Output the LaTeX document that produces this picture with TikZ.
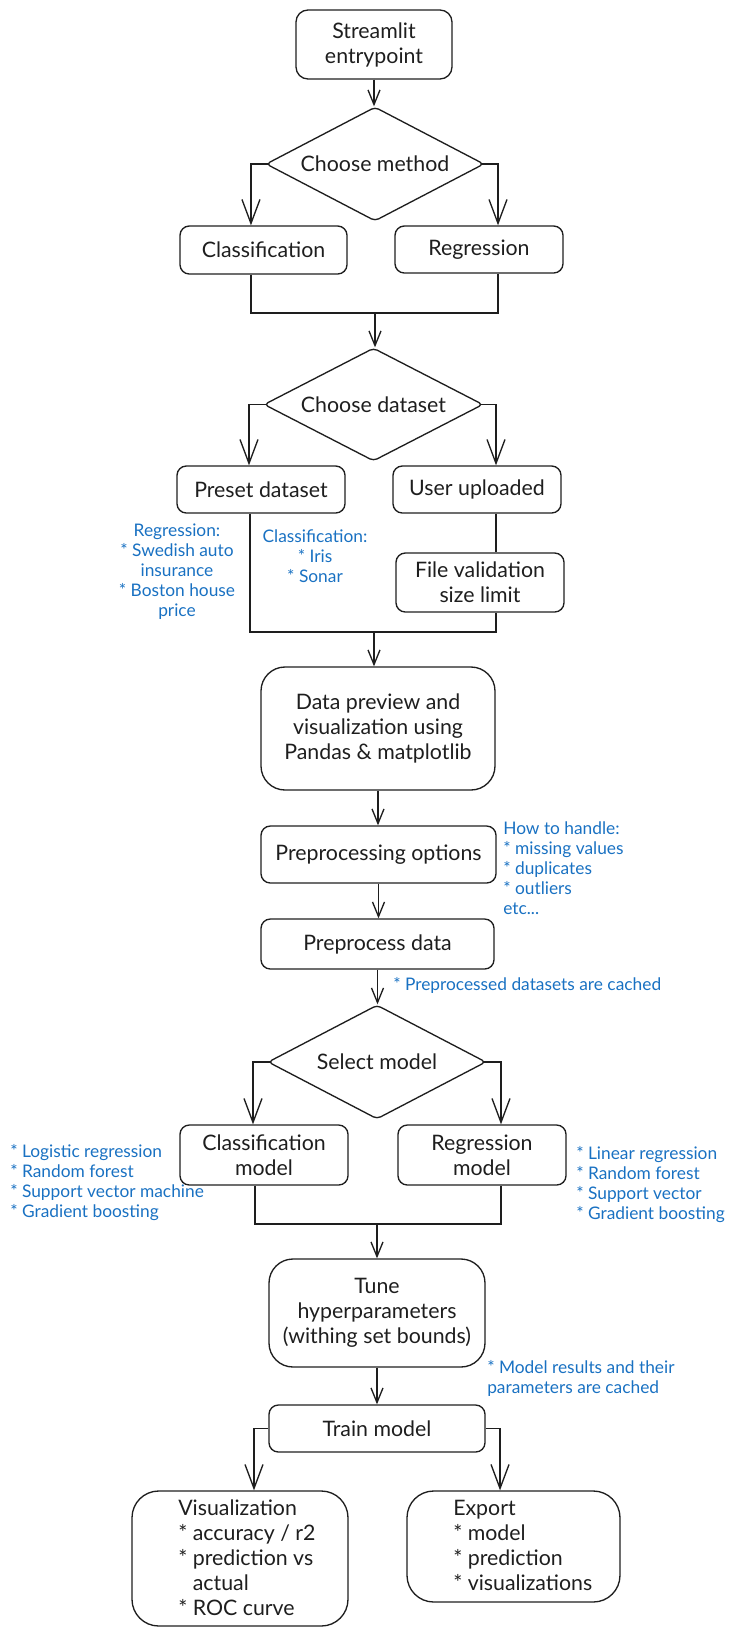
\documentclass[tikz,border=0pt]{standalone}
\usepackage{fontspec}
\setmainfont{Lato}
\usepackage{xcolor}
\usetikzlibrary{arrows.meta,shapes.geometric}

\definecolor{ink}{HTML}{1E1E1E}
\definecolor{noteblue}{HTML}{1971C2}

\tikzset{
  block/.style     = {draw=ink, line width=1pt, rounded corners=7pt, align=center,
                      inner sep=0pt, text=ink, font=\fontsize{16}{18.75}\selectfont},
  bigblock/.style  = {block, rounded corners=18pt},
  decision/.style  = {diamond, draw=ink, line width=1pt, rounded corners=3pt, aspect=1.9,
                      inner sep=0pt, text=ink, font=\fontsize{16}{18.75}\selectfont},
  boxtext/.style   = {anchor=west, align=left, inner sep=0pt, text=ink,
                      font=\fontsize{16}{18.75}\selectfont},
  note/.style      = {text=noteblue, align=left, inner sep=0pt, font=\fontsize{13}{15}\selectfont},
  link/.style      = {draw=ink, line width=1pt},
  shortarrow/.style= {link, -{Straight Barb[length=11pt,width=9pt]}},
  longarrow/.style = {link, -{Straight Barb[length=18pt,width=13.5pt]}}
}

\begin{document}
\begin{tikzpicture}[x=0.75pt, y=-0.75pt]

\useasboundingbox (0,0) rectangle (740,1636);

% level 1
\node[block, rounded corners=9pt, minimum width=117pt, minimum height=51.75pt] (entry) at (374,44.5) {Streamlit\\entrypoint};
\node[decision, minimum width=163.5pt, minimum height=85.5pt] (method) at (375,164) {Choose method};
\node[block, minimum width=125.25pt, minimum height=36pt] (cls) at (263.5,250) {Classification};
\node[block, minimum width=126pt, minimum height=35.25pt] (reg) at (479,249.5) {Regression};

% level 2
\node[decision, minimum width=164.25pt, minimum height=84.75pt] (dataset) at (373.5,404.5) {Choose dataset};
\node[block, minimum width=126pt, minimum height=35.25pt] (preset) at (261,489.5) {Preset dataset};
\node[block, minimum width=126pt, minimum height=35.25pt] (user) at (477,489.5) {User uploaded};
\node[block, minimum width=126pt, minimum height=44.25pt] (valid) at (480,582.5) {File validation\\size limit};

\node[note, align=center] (regnote) at (177,572) {Regression:\\* Swedish auto\\insurance\\* Boston house\\price};
\node[note, align=center] (clsnote) at (315,556) {Classification:\\* Iris\\* Sonar};

% level 3
\node[bigblock, minimum width=175.5pt, minimum height=92.25pt] (preview) at (378,728.5) {Data preview and\\visualization using\\Pandas \& matplotlib};
\node[block, minimum width=176.25pt, minimum height=42.75pt] (prepopt) at (378.5,854.5) {Preprocessing options};
\node[block, minimum width=174.75pt, minimum height=37.5pt] (prepdata) at (377.5,944) {Preprocess data};

\node[note, anchor=west] (handlenote) at (503,868) {How to handle:\\* missing values\\* duplicates\\* outliers\\etc...};
\node[note, anchor=west] (cachenote) at (393,985) {* Preprocessed datasets are cached};

% level 4
\node[decision, minimum width=163.5pt, minimum height=85.5pt] (select) at (377,1062) {Select model};
\node[block, minimum width=126pt, minimum height=45pt] (clsmodel) at (264,1155) {Classification\\model};
\node[block, minimum width=126pt, minimum height=45pt] (regmodel) at (482,1155) {Regression\\model};

\node[note, anchor=west] (logitnote) at (10,1183) {* Logistic regression\\* Random forest\\* Support vector machine\\* Gradient boosting};
\node[note, anchor=west] (linnote) at (576,1185) {* Linear regression\\* Random forest\\* Support vector\\* Gradient boosting};

% level 5
\node[bigblock, minimum width=162pt, minimum height=81pt] (tune) at (377,1313) {Tune\\hyperparameters\\(withing set bounds)};
\node[block, minimum width=162pt, minimum height=35.25pt] (train) at (377,1428.5) {Train model};
\node[note, anchor=west] (resultnote) at (487,1378.5) {* Model results and their\\parameters are cached};

\node[bigblock, rounded corners=20pt, minimum width=162pt, minimum height=101.25pt] (vis) at (240,1558.5) {};
\node[boxtext] (vistext) at (178,1557.5) {Visualization\\* accuracy / r2\\* prediction vs\\\hphantom{*}\ actual\\* ROC curve};
\node[bigblock, rounded corners=20pt, minimum width=159.75pt, minimum height=83.25pt] (export) at (513.5,1546.5) {};
\node[boxtext] (exporttext) at (453,1545.5) {Export\\* model\\* prediction\\* visualizations};

% connectors
\coordinate (mergeA) at (375,313);
\coordinate (mergeB) at (374,632);
\coordinate (mergeC) at (377,1224);

\draw[shortarrow] (entry.south) -- (entry.south |- method.north);
\draw[longarrow] ([xshift=3pt]method.west) -| ([xshift=-9.4pt]cls.north);
\draw[longarrow] ([xshift=-3pt]method.east) -| ([xshift=14.25pt]reg.north);
\draw[link] ([xshift=-9.4pt]cls.south) |- (mergeA) -| ([xshift=14.25pt]reg.south);
\draw[shortarrow] (mergeA) -- (mergeA |- dataset.north);

\draw[longarrow] ([xshift=3pt]dataset.west) -| ([xshift=-9pt]preset.north);
\draw[longarrow] ([xshift=-3pt]dataset.east) -| ([xshift=14.25pt]user.north);
\draw[link] ([xshift=14.25pt]user.south) -- ([xshift=14.25pt]user.south |- valid.north);
\draw[link] ([xshift=-8.25pt]preset.south) |- (mergeB) -| ([xshift=12pt]valid.south);
\draw[shortarrow] (mergeB) -- (mergeB |- preview.north);

\draw[shortarrow] (preview.south) -- (preview.south |- prepopt.north);
\draw[shortarrow] (prepopt.south) -- (prepopt.south |- prepdata.north);
\draw[shortarrow] (prepdata.south) -- (prepdata.south |- select.north);

\draw[longarrow] ([xshift=3pt]select.west) -| ([xshift=-8.25pt]clsmodel.north);
\draw[longarrow] ([xshift=-3pt]select.east) -| ([xshift=14.25pt]regmodel.north);
\draw[link] ([xshift=-6.75pt]clsmodel.south) |- (mergeC) -| ([xshift=14.25pt]regmodel.south);
\draw[shortarrow] (mergeC) -- (mergeC |- tune.north);

\draw[shortarrow] (tune.south) -- (tune.south |- train.north);
\draw[longarrow] (train.west) -| ([xshift=10.5pt]vis.north);
\draw[longarrow] (train.east) -| ([xshift=-10.1pt]export.north);

\end{tikzpicture}
\end{document}
